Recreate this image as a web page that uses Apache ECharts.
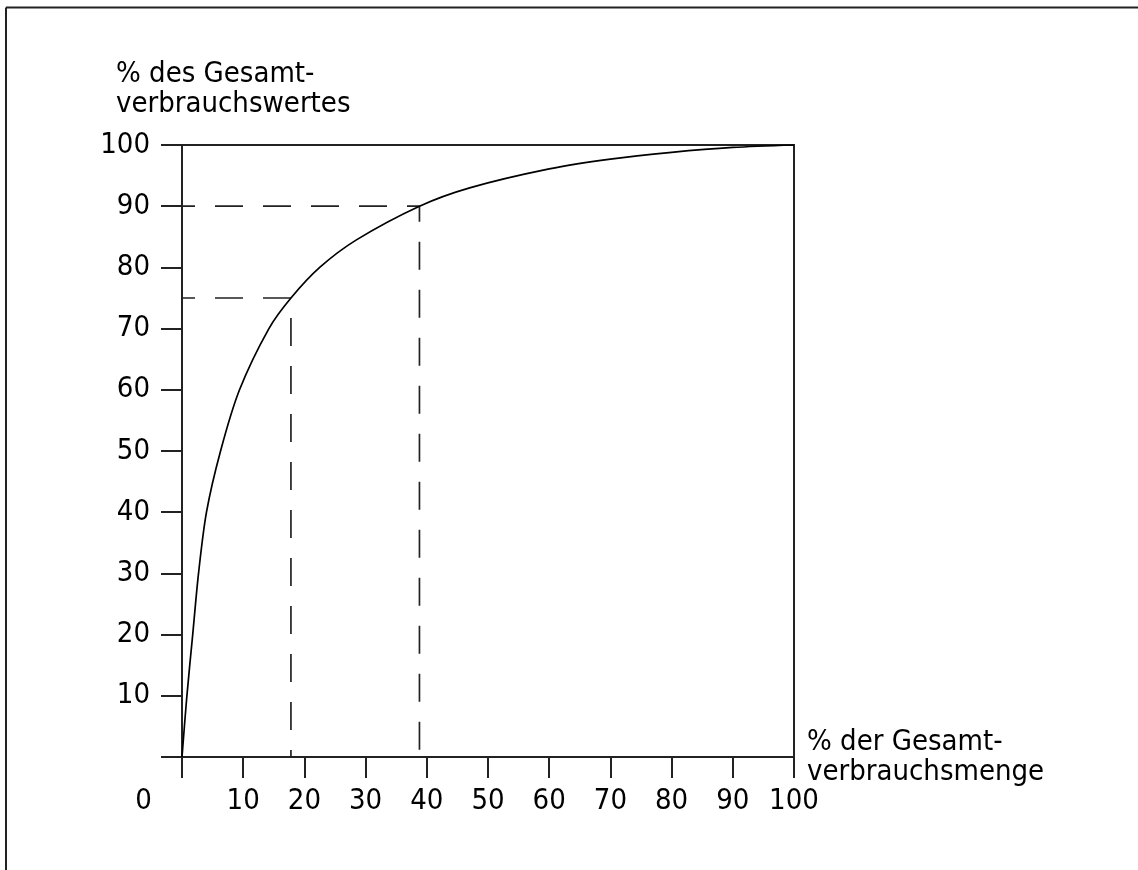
<!DOCTYPE html>
<html>
<head>
<meta charset="utf-8">
<script src="https://cdn.jsdelivr.net/npm/echarts@6/dist/echarts.min.js"></script>
<style>
html,body{margin:0;padding:0;background:#fff;}
#chart{width:1138px;height:870px;}
</style>
</head>
<body>
<div id="chart"></div>
<script>
// ---- data ----
const curveX = [0, 0.8, 1.75, 2.7, 4.0, 6.3, 9.4, 14.2, 17.8, 22.5, 28.5, 38.8, 47, 60, 70, 80, 90, 100];
const curveY = [0, 10, 20, 30, 40, 50, 60, 70, 75, 80, 84.5, 90, 93, 96.1, 97.7, 98.8, 99.6, 100];
const mark75 = [17.8, 75];
const mark90 = [38.8, 90];
const yAxisTitle = '% des Gesamt-\nverbrauchswertes';
const xAxisTitle = '% der Gesamt-\nverbrauchsmenge';

const FONT = "'Liberation Sans Narrow', 'DejaVu Sans Condensed', 'Roboto', sans-serif";
const AX = '#222';
const FS = 29;

const curve = curveX.map((x, i) => [x, curveY[i]]);
const guide75 = [[0, mark75[1]], [mark75[0], mark75[1]], [mark75[0], 0]];
const guide90 = [[0, mark90[1]], [mark90[0], mark90[1]], [mark90[0], 0]];

const chart = echarts.init(document.getElementById('chart'), null, {renderer: 'canvas'});
chart.setOption({
  backgroundColor: '#fff',
  animation: false,
  textStyle: {fontFamily: FONT},
  title: {
    text: yAxisTitle,
    left: 111,
    top: 54,
    textStyle: {fontFamily: FONT, fontSize: FS, fontWeight: 'normal', color: '#000', lineHeight: 30}
  },
  grid: {
    left: 182, right: 344, top: 145, bottom: 113,
    show: true, borderColor: AX, borderWidth: 2,
    outerBoundsMode: 'none'
  },
  xAxis: {
    type: 'value', min: 0, max: 100, interval: 10,
    name: xAxisTitle, nameLocation: 'end', nameGap: 13,
    nameTextStyle: {fontFamily: FONT, fontSize: FS, color: '#000', align: 'left', verticalAlign: 'middle', lineHeight: 30},
    axisLine: {show: true, lineStyle: {color: AX, width: 2}},
    axisTick: {show: true, inside: false, length: 21, lineStyle: {color: AX, width: 2}},
    splitLine: {show: false},
    axisLabel: {
      margin: 30, fontFamily: FONT, fontSize: FS, color: '#000',
      showMinLabel: true, showMaxLabel: true,
      formatter: v => v === 0 ? '{o|0}' : String(v),
      rich: {o: {fontFamily: FONT, fontSize: FS, color: '#000', padding: [0, 77, 0, 0]}}
    }
  },
  yAxis: {
    type: 'value', min: 0, max: 100, interval: 10,
    axisLine: {show: true, lineStyle: {color: AX, width: 2}},
    axisTick: {show: true, inside: false, length: 21, lineStyle: {color: AX, width: 2}},
    splitLine: {show: false},
    axisLabel: {
      margin: 32, fontFamily: FONT, fontSize: FS, color: '#000',
      formatter: v => v === 0 ? '' : String(v)
    }
  },
  graphic: [
    {type: 'line', shape: {x1: 6, y1: 7.5, x2: 1138, y2: 7.5}, style: {stroke: '#222', lineWidth: 2}},
    {type: 'line', shape: {x1: 6, y1: 7.5, x2: 6, y2: 870}, style: {stroke: '#222', lineWidth: 2}}
  ],
  series: [
    {
      type: 'line', data: guide75, symbol: 'none', silent: true,
      lineStyle: {color: '#222', width: 1.7, type: [28, 20], dashOffset: 15}
    },
    {
      type: 'line', data: guide90, symbol: 'none', silent: true,
      lineStyle: {color: '#222', width: 1.7, type: [28, 20], dashOffset: 15}
    },
    {
      type: 'line', data: curve, symbol: 'none', smooth: 0.3,
      lineStyle: {color: '#000', width: 1.7}
    }
  ]
});
</script>
</body>
</html>
